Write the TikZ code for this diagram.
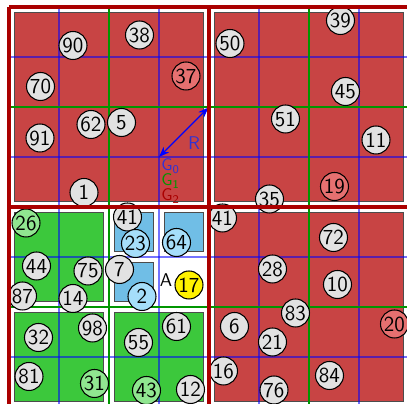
\documentclass[tikz,border=0pt]{standalone}
\usetikzlibrary{arrows.meta}
\definecolor{sqred}{RGB}{200,68,68}
\definecolor{sqgreen}{RGB}{60,200,60}
\definecolor{sqblue}{RGB}{112,190,230}
\definecolor{cgray}{RGB}{226,226,226}
\definecolor{cred}{RGB}{230,112,112}
\definecolor{cgreen}{RGB}{144,230,144}
\definecolor{cblue}{RGB}{165,222,250}
\definecolor{gred}{RGB}{170,0,0}
\definecolor{ggreen}{RGB}{0,150,0}
\definecolor{lblue}{RGB}{50,50,210}
\begin{document}
\begin{tikzpicture}[x=0.02cm,y=-0.02cm,
  quad/.style={draw=black!70, line width=0.5pt},
  bluegrid/.style={draw=blue, opacity=0.55, line width=0.85pt},
  greengrid/.style={draw=ggreen, line width=1.1pt},
  redgrid/.style={draw=gred, line width=2.3pt},
  pt/.style={circle, draw=black, line width=0.6pt, fill=cgray, minimum size=0.56cm, inner sep=0pt, font=\sffamily\fontsize{12.2}{13}\selectfont},
  ptr/.style={pt, fill=cred},
  ptg/.style={pt, fill=cgreen},
  ptb/.style={pt, fill=cblue},
  pty/.style={pt, fill=yellow},
  lab/.style={font=\sffamily\fontsize{10.5}{11}\selectfont, inner sep=0pt},
  glab/.style={font=\sffamily\fontsize{9.6}{10}\selectfont, inner sep=0pt, anchor=west}
]
\useasboundingbox (0,0) rectangle (407,404);
% squares
\filldraw[quad, fill=sqred] (14.5,12.5) rectangle (203.5,201.5);
\filldraw[quad, fill=sqred] (214.5,12.5) rectangle (403.5,201.5);
\filldraw[quad, fill=sqred] (214.5,212.5) rectangle (403.5,401.5);
\filldraw[quad, fill=sqgreen] (14.5,212.5) rectangle (103.5,301.5);
\filldraw[quad, fill=sqgreen] (14.5,312.5) rectangle (103.5,401.5);
\filldraw[quad, fill=sqgreen] (114.5,312.5) rectangle (203.5,401.5);
\filldraw[quad, fill=sqblue] (114.5,212.5) rectangle (153.5,251.5);
\filldraw[quad, fill=sqblue] (164.5,212.5) rectangle (203.5,251.5);
\filldraw[quad, fill=sqblue] (114.5,262.5) rectangle (153.5,301.5);
% grids
\foreach \v in {59,159,259,359} {\draw[bluegrid] (\v,7) -- (\v,407);}
\foreach \v in {57,157,257,357} {\draw[bluegrid] (9,\v) -- (409,\v);}
\foreach \v in {109,309} {\draw[greengrid] (\v,7) -- (\v,407);}
\foreach \v in {107,307} {\draw[greengrid] (9,\v) -- (409,\v);}
% arrow and labels
\coordinate (gc) at (159,157);
\coordinate (rc) at (208.5,107.5);
\draw[{Stealth[length=6pt,width=4.5pt]}-{Stealth[length=6pt,width=4.5pt]}, blue, line width=0.7pt] (gc) -- (rc);
\node[lab, text=lblue] (R) at (194,143) {R};
\node[glab, text=lblue] (G0) at (161,166) {G\textsubscript{0}};
\node[glab, text=ggreen] (G1) at (161,181) {G\textsubscript{1}};
\node[glab, text=gred] (G2) at (161,196) {G\textsubscript{2}};
\node[lab] (A) at (166,280) {A};
% points
\node[pt] (n90) at (73,45.5) {90};
\node[pt] (n38) at (139.5,35) {38};
\node[ptr] (n37) at (186,76) {37};
\node[pt] (n70) at (40.5,86.5) {70};
\node[pt] (n62) at (91,124.5) {62};
\node[pt] (n5) at (121.5,122.5) {5};
\node[pt] (n91) at (40,138) {91};
\node[pt] (n1) at (84,192.5) {1};
\node[pt] (n39) at (340.5,20.5) {39};
\node[pt] (n50) at (230,43.5) {50};
\node[pt] (n45) at (345.5,91.5) {45};
\node[pt] (n51) at (285.5,119) {51};
\node[pt] (n11) at (376,140) {11};
\node[ptr] (n19) at (334.5,186.5) {19};
\node[pt] (n35) at (269.5,199) {35};
\node[ptg] (n26) at (26,223) {26};
\node[pt] (n41a) at (127.5,217) {41};
\node[ptb] (n23) at (135.5,243.5) {23};
\node[ptb] (n64) at (176.5,242.5) {64};
\node[pt] (n44) at (36.5,266) {44};
\node[pt] (n75) at (88,271) {75};
\node[pt] (n7) at (119.5,269.5) {7};
\node[pty] (n17) at (189,285) {17};
\node[pt] (n87) at (22.5,296) {87};
\node[pt] (n14) at (73,298.5) {14};
\node[ptb] (n2) at (142,296.5) {2};
\node[pt] (n98) at (92.5,328) {98};
\node[pt] (n32) at (38.5,337.5) {32};
\node[pt] (n61) at (176.5,326.5) {61};
\node[pt] (n55) at (138.5,342.5) {55};
\node[pt] (n81) at (29,376.5) {81};
\node[ptg] (n31) at (94.5,383.5) {31};
\node[ptg] (n43) at (146.5,390.5) {43};
\node[pt] (n12) at (190.5,389.5) {12};
\node[pt] (n41b) at (222.5,218) {41};
\node[pt] (n72) at (333.5,237.5) {72};
\node[pt] (n28) at (272.5,269) {28};
\node[pt] (n10) at (337.5,284.5) {10};
\node[pt] (n83) at (295.5,313) {83};
\node[pt] (n6) at (234.5,326.5) {6};
\node[ptr] (n20) at (394.5,324) {20};
\node[pt] (n21) at (272.5,342) {21};
\node[pt] (n16) at (223.5,371) {16};
\node[pt] (n84) at (329.5,375.5) {84};
\node[pt] (n76) at (274,390) {76};
% red frame lines
\foreach \v in {9,209,409} {\draw[redgrid] (\v,7) -- (\v,407);}
\foreach \v in {7,207,407} {\draw[redgrid] (9,\v) -- (409,\v);}
\end{tikzpicture}
\end{document}
